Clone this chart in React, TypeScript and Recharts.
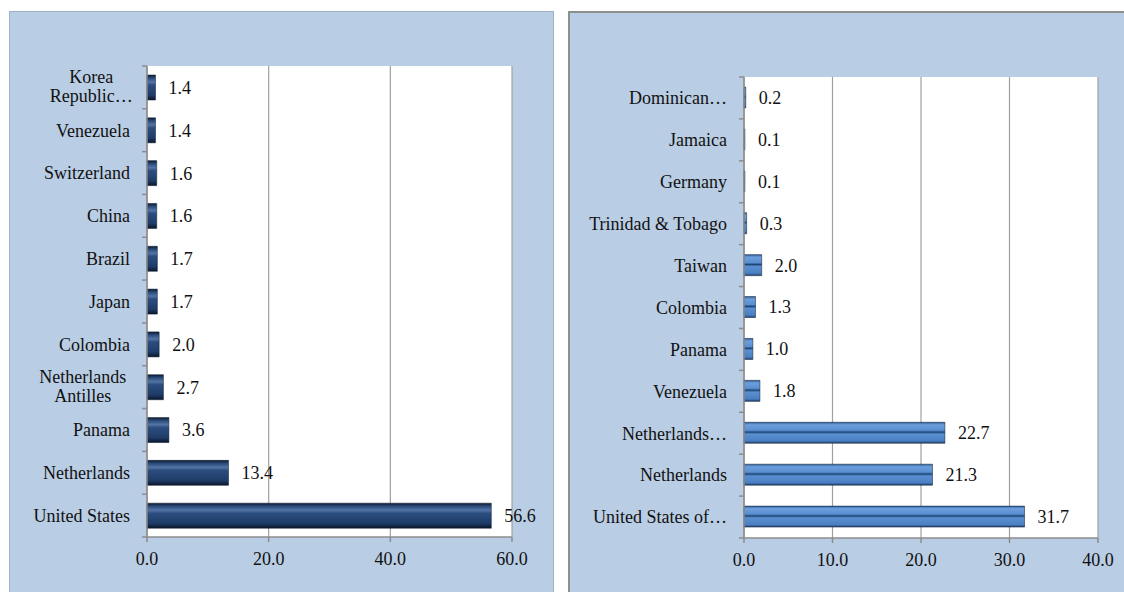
import React from 'react';
import { BarChart, Bar, XAxis, YAxis, CartesianGrid, LabelList } from 'recharts';

const leftCountries = [
  'Korea Republic…',
  'Venezuela',
  'Switzerland',
  'China',
  'Brazil',
  'Japan',
  'Colombia',
  'Netherlands Antilles',
  'Panama',
  'Netherlands',
  'United States',
];
const leftValues = [1.4, 1.4, 1.6, 1.6, 1.7, 1.7, 2.0, 2.7, 3.6, 13.4, 56.6];
const leftTicks = [0, 20, 40, 60];

const rightCountries = [
  'Dominican…',
  'Jamaica',
  'Germany',
  'Trinidad & Tobago',
  'Taiwan',
  'Colombia',
  'Panama',
  'Venezuela',
  'Netherlands…',
  'Netherlands',
  'United States of…',
];
const rightValues = [0.2, 0.1, 0.1, 0.3, 2.0, 1.3, 1.0, 1.8, 22.7, 21.3, 31.7];
const rightTicks = [0, 10, 20, 30, 40];

const FONT = "'Liberation Serif', 'DejaVu Serif', 'Noto Serif', serif";
const AXIS = '#8c8c8c';
const PANEL_BG = '#b9cde4';

const makeTick = (axisX: number, band: number, wrap: boolean) => (props: any) => {
  const { y, payload, index, visibleTicksCount } = props;
  const label: string = payload.value;
  const lines = wrap && label.length > 14 ? label.split(/ (.+)/).filter(Boolean) : [label];
  const longest = Math.max(...lines.map((l) => l.length));
  const cx = axisX - 17 - longest * 4.3;
  return (
    <g>
      <line x1={axisX - 5} x2={axisX} y1={y - band / 2} y2={y - band / 2} stroke={AXIS} strokeWidth={1.5} />
      {index === visibleTicksCount - 1 && (
        <line x1={axisX - 5} x2={axisX} y1={y + band / 2} y2={y + band / 2} stroke={AXIS} strokeWidth={1.5} />
      )}
      {lines.length === 1 ? (
        <text x={axisX - 17} y={y} dy="0.35em" textAnchor="end" style={{ fontFamily: FONT, fontSize: 18 }} fill="#111">
          {label}
        </text>
      ) : (
        <text x={cx} y={y} textAnchor="middle" style={{ fontFamily: FONT, fontSize: 18 }} fill="#111">
          {lines.map((l, i) => (
            <tspan key={i} x={cx} dy={i === 0 ? '-0.25em' : '1.05em'}>
              {l}
            </tspan>
          ))}
        </text>
      )}
    </g>
  );
};

const XTick = (props: any) => {
  const { x, y, payload } = props;
  return (
    <text x={x} y={y} dy="0.71em" textAnchor="middle" style={{ fontFamily: FONT, fontSize: 18 }} fill="#111">
      {Number(payload.value).toFixed(1)}
    </text>
  );
};

interface PanelProps {
  id: string;
  names: string[];
  values: number[];
  ticks: number[];
  width: number;
  height: number;
  margin: { top: number; right: number; left: number; bottom: number };
  yWidth: number;
  xHeight: number;
  barSize: number;
  wrap: boolean;
  stops: [string, string][];
}

function Panel(p: PanelProps) {
  const data = p.names.map((name, i) => ({ name, value: p.values[i] }));
  const plotH = p.height - p.margin.top - p.margin.bottom - p.xHeight;
  const band = plotH / p.names.length;
  const axisX = p.margin.left + p.yWidth;
  return (
    <BarChart
      width={p.width}
      height={p.height}
      data={data}
      layout="vertical"
      margin={p.margin}
      style={{ fontFamily: FONT }}
    >
      <defs>
        <linearGradient id={p.id} x1="0" y1="0" x2="0" y2="1">
          {p.stops.map(([o, c], i) => (
            <stop key={i} offset={o} stopColor={c} />
          ))}
        </linearGradient>
      </defs>
      <CartesianGrid horizontal={false} stroke="#a0a0a0" strokeWidth={1.2} fill="#ffffff" />
      <XAxis
        type="number"
        domain={[p.ticks[0], p.ticks[p.ticks.length - 1]]}
        ticks={p.ticks}
        interval={0}
        height={p.xHeight}
        stroke={AXIS}
        strokeWidth={1.5}
        tickSize={5}
        tickMargin={10}
        tick={<XTick />}
      />
      <YAxis
        type="category"
        dataKey="name"
        width={p.yWidth}
        stroke={AXIS}
        strokeWidth={1.5}
        tickLine={false}
        interval={0}
        tick={makeTick(axisX, band, p.wrap)}
      />
      <Bar
        dataKey="value"
        fill={`url(#${p.id})`}
        stroke="#0d1a2e"
        strokeOpacity={0.5}
        barSize={p.barSize}
        isAnimationActive={false}
      >
        <LabelList
          dataKey="value"
          position="right"
          offset={13}
          formatter={(v: any) => Number(v).toFixed(1)}
          style={{ fill: '#111', fontFamily: FONT, fontSize: 18 }}
        />
      </Bar>
    </BarChart>
  );
}

export default function App() {
  return (
    <div
      style={{
        position: 'absolute',
        left: 0,
        top: 0,
        width: 1124,
        height: 592,
        overflow: 'hidden',
        background: '#ffffff',
        fontFamily: FONT,
      }}
    >
      <div
        style={{
          position: 'absolute',
          left: 9,
          top: 11,
          width: 545,
          height: 581,
          background: PANEL_BG,
          borderTop: '1px solid #9fb1c6',
          borderLeft: '1px solid #9fb1c6',
          borderRight: '1px solid #9fb1c6',
          boxSizing: 'border-box',
        }}
      >
        <div style={{ position: 'absolute', left: -1, top: -1 }}>
          <Panel
            id="leftBar"
            names={leftCountries}
            values={leftValues}
            ticks={leftTicks}
            width={545}
            height={581}
            margin={{ top: 55, right: 42, left: 0, bottom: 0 }}
            yWidth={138}
            xHeight={55}
            barSize={25}
            wrap={true}
            stops={[
              ['0%', '#0c1a31'],
              ['12%', '#2a4a78'],
              ['28%', '#5275a6'],
              ['40%', '#2b4d7f'],
              ['80%', '#1f3c68'],
              ['100%', '#0a162b'],
            ]}
          />
        </div>
      </div>
      <div
        style={{
          position: 'absolute',
          left: 568,
          top: 11,
          width: 556,
          height: 581,
          background: PANEL_BG,
          borderTop: '2px solid #8f8f8f',
          borderLeft: '2px solid #8f8f8f',
          boxSizing: 'border-box',
        }}
      >
        <div style={{ position: 'absolute', left: -1, top: -1 }}>
          <Panel
            id="rightBar"
            names={rightCountries}
            values={rightValues}
            ticks={rightTicks}
            width={556}
            height={581}
            margin={{ top: 65, right: 27, left: 0, bottom: 0 }}
            yWidth={175}
            xHeight={55}
            barSize={21}
            wrap={false}
            stops={[
              ['0%', '#2f5e98'],
              ['12%', '#6c9edb'],
              ['38%', '#5a8fd1'],
              ['47%', '#1d4677'],
              ['56%', '#5a8fd1'],
              ['88%', '#4a7fc2'],
              ['100%', '#1f4373'],
            ]}
          />
        </div>
      </div>
    </div>
  );
}
